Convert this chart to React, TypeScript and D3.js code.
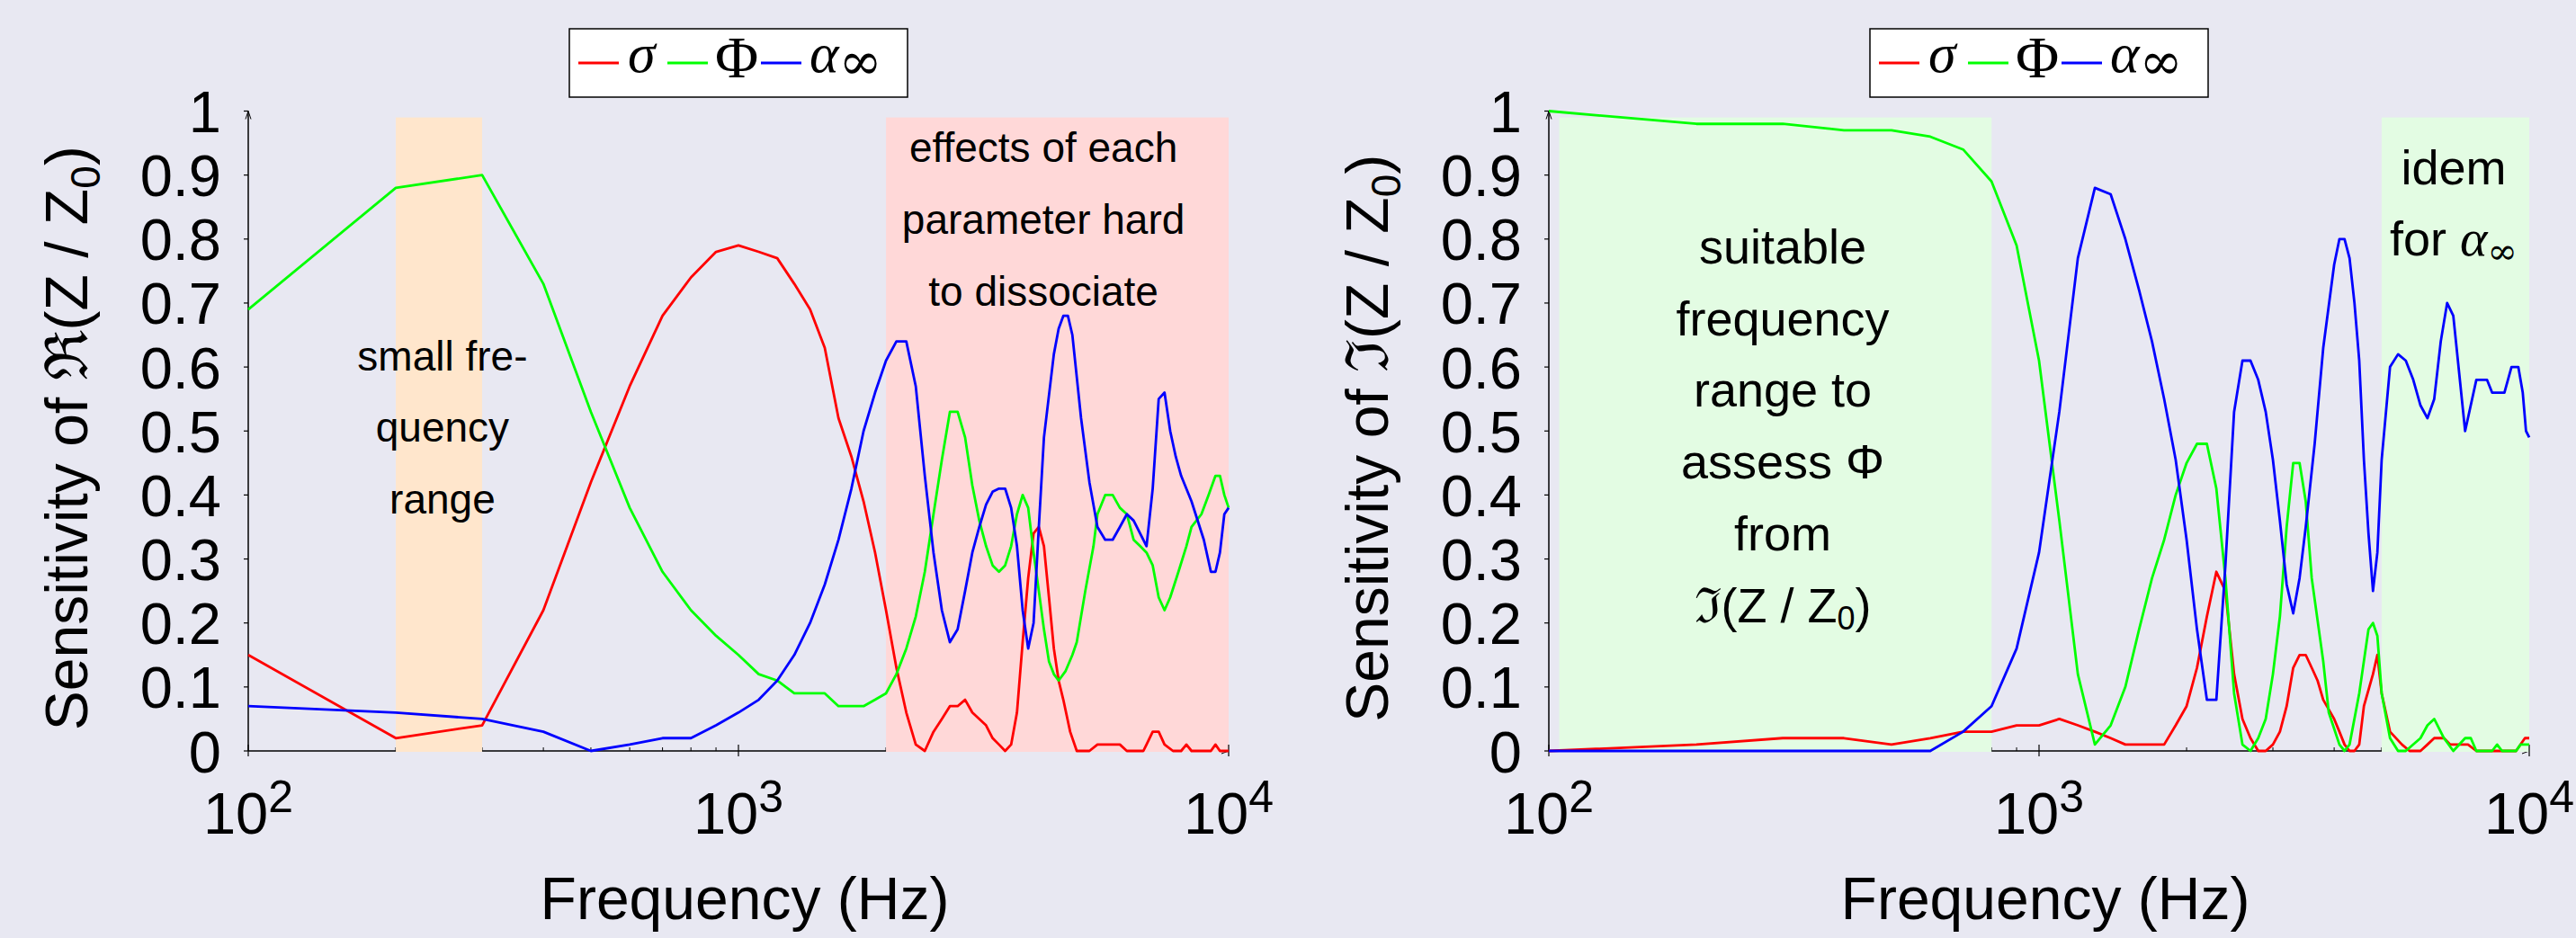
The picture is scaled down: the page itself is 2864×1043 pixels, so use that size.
import * as d3 from 'd3';

type Pt = [number, number];

// axis values
const freqDomain: [number, number] = [100, 10000];
const yTickValues = [0, 0.1, 0.2, 0.3, 0.4, 0.5, 0.6, 0.7, 0.8, 0.9, 1];
const yTickLabels = ['0', '0.1', '0.2', '0.3', '0.4', '0.5', '0.6', '0.7', '0.8', '0.9', '1'];
const xMajorValues = [100, 1000, 10000];
const xMajorExponents = ['2', '3', '4'];
const seriesColors = ['#ff0000', '#00ff00', '#0000ff'];

// sensitivity of Re(Z/Z0)
const reSigma: Pt[] = [
  [100, 0.15], [200, 0.02], [300, 0.04], [400, 0.22], [500, 0.42], [600, 0.57], [700, 0.68],
  [800, 0.74], [900, 0.78], [1000, 0.79], [1100, 0.78], [1200, 0.77], [1300, 0.73], [1400, 0.69],
  [1500, 0.63], [1600, 0.52], [1700, 0.46], [1800, 0.39], [1900, 0.31], [2000, 0.22], [2100, 0.13],
  [2200, 0.06], [2300, 0.01], [2400, 0], [2500, 0.03], [2600, 0.05], [2700, 0.07], [2800, 0.07],
  [2900, 0.08], [3000, 0.06], [3100, 0.05], [3200, 0.04], [3300, 0.02], [3400, 0.01], [3500, 0],
  [3600, 0.01], [3700, 0.06], [3800, 0.17], [3900, 0.27], [4000, 0.34], [4100, 0.35], [4200, 0.32],
  [4300, 0.24], [4400, 0.16], [4500, 0.11], [4600, 0.08], [4750, 0.03], [4900, 0], [5200, 0],
  [5400, 0.01], [6000, 0.01], [6200, 0], [6700, 0], [6800, 0.01], [7000, 0.03], [7200, 0.03],
  [7400, 0.01], [7700, 0], [8000, 0], [8200, 0.01], [8400, 0], [9200, 0], [9400, 0.01], [9600, 0],
  [10000, 0],
];
const rePhi: Pt[] = [
  [100, 0.69], [200, 0.88], [300, 0.9], [400, 0.73], [500, 0.53], [600, 0.38], [700, 0.28],
  [800, 0.22], [900, 0.18], [1000, 0.15], [1100, 0.12], [1200, 0.11], [1300, 0.09], [1400, 0.09],
  [1500, 0.09], [1600, 0.07], [1700, 0.07], [1800, 0.07], [1900, 0.08], [2000, 0.09], [2100, 0.12],
  [2200, 0.16], [2300, 0.21], [2400, 0.28], [2500, 0.37], [2600, 0.455], [2700, 0.53], [2800, 0.53],
  [2900, 0.49], [3000, 0.415], [3100, 0.36], [3200, 0.32], [3300, 0.29], [3400, 0.28], [3500, 0.29],
  [3600, 0.32], [3700, 0.37], [3800, 0.4], [3900, 0.38], [4000, 0.31], [4100, 0.25], [4200, 0.19],
  [4300, 0.14], [4400, 0.12], [4500, 0.11], [4650, 0.125], [4800, 0.15], [4900, 0.17], [5100, 0.25],
  [5300, 0.32], [5400, 0.37], [5600, 0.4], [5800, 0.4], [6000, 0.38], [6200, 0.37], [6400, 0.33],
  [6600, 0.32], [6800, 0.31], [7000, 0.29], [7200, 0.24], [7400, 0.22], [7600, 0.24], [7900, 0.28],
  [8200, 0.32], [8400, 0.35], [8800, 0.37], [9100, 0.4], [9400, 0.43], [9600, 0.43], [9800, 0.4],
  [10000, 0.38],
];
const reAlpha: Pt[] = [
  [100, 0.07], [200, 0.06], [300, 0.05], [400, 0.03], [500, 0], [600, 0.01], [700, 0.02],
  [800, 0.02], [900, 0.04], [1000, 0.06], [1100, 0.08], [1200, 0.11], [1300, 0.15], [1400, 0.2],
  [1500, 0.26], [1600, 0.33], [1700, 0.41], [1800, 0.5], [1900, 0.56], [2000, 0.61], [2100, 0.64],
  [2200, 0.64], [2300, 0.57], [2400, 0.43], [2500, 0.31], [2600, 0.22], [2700, 0.17], [2800, 0.19],
  [2900, 0.25], [3000, 0.31], [3100, 0.35], [3200, 0.385], [3300, 0.405], [3400, 0.41], [3500, 0.41],
  [3600, 0.38], [3700, 0.32], [3800, 0.22], [3900, 0.16], [4000, 0.2], [4100, 0.35], [4200, 0.49],
  [4400, 0.62], [4500, 0.66], [4600, 0.68], [4700, 0.68], [4800, 0.65], [5000, 0.52], [5200, 0.42],
  [5400, 0.35], [5600, 0.33], [5800, 0.33], [6000, 0.35], [6200, 0.37], [6400, 0.36], [6800, 0.32],
  [7000, 0.41], [7200, 0.55], [7400, 0.56], [7600, 0.5], [7800, 0.46], [8000, 0.43], [8400, 0.39],
  [8900, 0.33], [9200, 0.28], [9400, 0.28], [9600, 0.31], [9800, 0.37], [10000, 0.38],
];

// sensitivity of Im(Z/Z0)
const imSigma: Pt[] = [
  [100, 0], [200, 0.01], [300, 0.02], [400, 0.02], [500, 0.01], [600, 0.02], [700, 0.03],
  [800, 0.03], [900, 0.04], [1000, 0.04], [1100, 0.05], [1200, 0.04], [1300, 0.03], [1400, 0.02],
  [1500, 0.01], [1800, 0.01], [1900, 0.04], [2000, 0.07], [2100, 0.13], [2200, 0.21], [2300, 0.28],
  [2400, 0.25], [2500, 0.12], [2600, 0.05], [2700, 0.02], [2800, 0], [2900, 0], [3000, 0.01],
  [3100, 0.03], [3200, 0.07], [3300, 0.13], [3400, 0.15], [3500, 0.15], [3600, 0.13], [3700, 0.11],
  [3800, 0.08], [4000, 0.05], [4100, 0.03], [4200, 0.01], [4300, 0], [4400, 0], [4500, 0.01],
  [4600, 0.07], [4800, 0.12], [4900, 0.15], [5000, 0.09], [5200, 0.03], [5500, 0.01], [5700, 0],
  [6000, 0], [6200, 0.01], [6400, 0.02], [6700, 0.02], [6900, 0.01], [7500, 0.01], [7800, 0],
  [9400, 0], [9800, 0.02], [10000, 0.02],
];
const imPhi: Pt[] = [
  [100, 1], [200, 0.98], [300, 0.98], [400, 0.97], [500, 0.97], [600, 0.96], [700, 0.94],
  [800, 0.89], [900, 0.79], [1000, 0.61], [1100, 0.36], [1200, 0.12], [1300, 0.01], [1400, 0.04],
  [1500, 0.1], [1600, 0.19], [1700, 0.27], [1800, 0.33], [1900, 0.4], [2000, 0.45], [2100, 0.48],
  [2200, 0.48], [2300, 0.41], [2400, 0.27], [2500, 0.09], [2600, 0.01], [2700, 0], [2800, 0.02],
  [2900, 0.05], [3000, 0.12], [3100, 0.21], [3200, 0.35], [3300, 0.45], [3400, 0.45], [3500, 0.39],
  [3600, 0.27], [3800, 0.14], [3900, 0.06], [4100, 0.01], [4200, 0], [4300, 0.01], [4500, 0.09],
  [4700, 0.19], [4800, 0.2], [4900, 0.18], [5000, 0.09], [5200, 0.02], [5400, 0], [5600, 0],
  [6000, 0.02], [6200, 0.04], [6400, 0.05], [6700, 0.02], [7000, 0], [7400, 0.02], [7600, 0.02],
  [7800, 0], [8400, 0], [8600, 0.01], [8800, 0], [9400, 0], [9600, 0.01], [10000, 0.01],
];
const imAlpha: Pt[] = [
  [100, 0], [600, 0], [700, 0.03], [800, 0.07], [900, 0.16], [1000, 0.31], [1100, 0.53],
  [1200, 0.77], [1300, 0.88], [1400, 0.87], [1500, 0.8], [1600, 0.72], [1700, 0.64], [1800, 0.55],
  [1900, 0.455], [2000, 0.33], [2100, 0.19], [2200, 0.08], [2300, 0.08], [2400, 0.29], [2500, 0.53],
  [2600, 0.61], [2700, 0.61], [2800, 0.58], [2900, 0.53], [3000, 0.455], [3100, 0.36], [3200, 0.26],
  [3300, 0.215], [3400, 0.27], [3500, 0.35], [3650, 0.48], [3800, 0.63], [4000, 0.76], [4100, 0.8],
  [4200, 0.8], [4300, 0.77], [4400, 0.7], [4500, 0.61], [4600, 0.455], [4700, 0.34], [4800, 0.25],
  [4900, 0.31], [5000, 0.455], [5200, 0.6], [5400, 0.62], [5600, 0.61], [5800, 0.58], [6000, 0.54],
  [6200, 0.52], [6400, 0.55], [6600, 0.64], [6800, 0.7], [7000, 0.68], [7400, 0.5], [7800, 0.58],
  [8200, 0.58], [8400, 0.56], [8900, 0.56], [9200, 0.6], [9500, 0.6], [9700, 0.56], [9850, 0.5],
  [10000, 0.49],
];

// shaded frequency ranges [from, to]
const reBandRanges: Pt[] = [[200, 300], [2000, 10000]];
const reBandColors = ['#ffe6cc', '#ffd8d8'];
const imBandRanges: Pt[] = [[105, 800], [5000, 10000]];
const imBandColors = ['#e3fce3', '#e3fce3'];

const W = 2864;
const H = 1043;
const PLOT_W = 1090;
const Y_TOP = 123.5;
const Y_BOTTOM = 835;
const BG = '#e8e8f2';
const SANS = '"Liberation Sans", Arial, Helvetica, sans-serif';
const SERIF = '"Liberation Serif", "Times New Roman", serif';
const MATH = '"DejaVu Serif", "Liberation Serif", serif';

type PanelProps = {
  x0: number;
  series: Pt[][];
  bandRanges: Pt[];
  bandColors: string[];
  partSymbol: string;
  children?: (x: d3.ScaleLogarithmic<number, number>, y: d3.ScaleLinear<number, number>) => any;
};

function Panel({ x0, series, bandRanges, bandColors, partSymbol, children }: PanelProps) {
  const x = d3.scaleLog().domain(freqDomain).range([x0, x0 + PLOT_W]);
  const y = d3.scaleLinear().domain([0, 1]).range([Y_BOTTOM, Y_TOP]);
  const line = d3.line<Pt>().x((d) => x(d[0])).y((d) => y(d[1]));
  const minorTicks = x.ticks().filter((t) => !xMajorValues.includes(t));
  const x1 = x0 + PLOT_W;
  const cx = x0 + PLOT_W / 2;

  // legend layout
  const boxW = 376;
  const boxX = cx - boxW / 2;
  const itemOffsets = [10, 109, 213];

  return (
    <g>
      {/* axes */}
      <line x1={x0} x2={x1} y1={y(0)} y2={y(0)} stroke="#000" strokeWidth={1.5} />
      <line x1={x0} x2={x0} y1={y(0)} y2={y(1)} stroke="#000" strokeWidth={1.5} />
      <path d={`M${x0 - 3},${y(1) + 9}L${x0},${y(1)}L${x0 + 3},${y(1) + 9}`} fill="none" stroke="#000" strokeWidth={1} />
      <path d={`M${x1 - 8},${y(0) - 3}L${x1},${y(0)}L${x1 - 8},${y(0) + 3}`} fill="none" stroke="#000" strokeWidth={1} />
      {minorTicks.map((t) => (
        <line key={t} x1={x(t)} x2={x(t)} y1={y(0) - 4} y2={y(0)} stroke="#000" strokeWidth={1} />
      ))}

      {/* shaded ranges */}
      {bandRanges.map((r, i) => (
        <rect key={i} x={x(r[0])} y={y(0.99)} width={x(r[1]) - x(r[0])} height={y(0) - y(0.99) + 1} fill={bandColors[i]} />
      ))}

      {xMajorValues.map((t) => (
        <line key={t} x1={x(t)} x2={x(t)} y1={y(0) - 7} y2={y(0) + 6} stroke="#000" strokeWidth={1.2} />
      ))}
      {yTickValues.map((t) => (
        <line key={t} x1={x0 - 5} x2={x0} y1={y(t)} y2={y(t)} stroke="#000" strokeWidth={1.2} />
      ))}

      {/* tick labels */}
      {yTickValues.map((t, i) => (
        <text key={t} x={x0 - 30} y={y(t) + 23.5} textAnchor="end" fontSize={65} fontFamily={SANS}>
          {yTickLabels[i]}
        </text>
      ))}
      {xMajorValues.map((t, i) => (
        <text key={t} x={x(t)} y={927} textAnchor="middle" fontSize={65} fontFamily={SANS}>
          10<tspan fontSize={50} dy={-24}>{xMajorExponents[i]}</tspan>
        </text>
      ))}

      {/* series */}
      {series.map((s, i) => (
        <path key={i} d={line(s) ?? ''} fill="none" stroke={seriesColors[i]} strokeWidth={2.8} strokeLinejoin="round" />
      ))}

      {children ? children(x, y) : null}

      {/* axis titles */}
      <text x={cx + 7} y={1022} textAnchor="middle" fontSize={66} fontFamily={SANS}>
        Frequency (Hz)
      </text>
      <text transform={`translate(${x0 - 179},${(Y_TOP + Y_BOTTOM) / 2 + 8}) rotate(-90)`} textAnchor="middle" fontSize={66} fontFamily={SANS}>
        Sensitivity of <tspan fontFamily={MATH}>{partSymbol}</tspan>(Z / Z<tspan fontSize={46} dy={14}>0</tspan><tspan dy={-14}>)</tspan>
      </text>

      {/* legend */}
      <rect x={boxX} y={32} width={boxW} height={76} fill="#fff" stroke="#000" strokeWidth={1.5} />
      {itemOffsets.map((o, i) => (
        <line key={i} x1={boxX + o} x2={boxX + o + 45} y1={70} y2={70} stroke={seriesColors[i]} strokeWidth={3} />
      ))}
      <text x={boxX + itemOffsets[0] + 55} y={80} fontSize={62} fontFamily={SERIF} fontStyle="italic">σ</text>
      <text x={boxX + itemOffsets[1] + 53} y={86} fontSize={66} fontFamily={SERIF}>Φ</text>
      <text x={boxX + itemOffsets[2] + 54} y={80} fontSize={62} fontFamily={SERIF}>
        <tspan fontStyle="italic">α</tspan>
        <tspan fontFamily={MATH} fontSize={58} dy={8}>∞</tspan>
      </text>
    </g>
  );
}

function Lines({ cx, top, size, lines }: { cx: number; top: number; size: number; lines: any[] }) {
  return (
    <g>
      {lines.map((l, i) => (
        <text key={i} x={cx} y={top + i * 79.8} textAnchor="middle" fontSize={size} fontFamily={SANS}>
          {l}
        </text>
      ))}
    </g>
  );
}

export default function App() {
  return (
    <svg width={W} height={H} style={{ position: 'absolute', left: 0, top: 0, display: 'block' }}>
      <rect x={0} y={0} width={W} height={H} fill={BG} />
      <Panel x0={276} series={[reSigma, rePhi, reAlpha]} bandRanges={reBandRanges} bandColors={reBandColors} partSymbol="ℜ">
        {(x, y) => (
          <g>
            <Lines cx={x(249)} top={y(0.595)} size={46} lines={['small fre-', 'quency', 'range']} />
            <Lines cx={x(4190)} top={y(0.92)} size={46} lines={['effects of each', 'parameter hard', 'to dissociate']} />
          </g>
        )}
      </Panel>
      <Panel x0={1722} series={[imSigma, imPhi, imAlpha]} bandRanges={imBandRanges} bandColors={imBandColors} partSymbol="ℑ">
        {(x, y) => (
          <g>
            <Lines
              cx={x(300)}
              top={y(0.762)}
              size={54}
              lines={[
                'suitable',
                'frequency',
                'range to',
                'assess Φ',
                'from',
                <tspan key="m">
                  <tspan fontFamily={MATH}>ℑ</tspan>(Z / Z<tspan fontSize={36} dy={8}>0</tspan>
                  <tspan dy={-8}>)</tspan>
                </tspan>,
              ]}
            />
            <Lines
              cx={x(7012)}
              top={y(0.886)}
              size={54}
              lines={[
                'idem',
                <tspan key="f">
                  for <tspan fontFamily={SERIF} fontStyle="italic" fontSize={58}>α</tspan>
                  <tspan fontFamily={MATH} fontSize={40} dy={9}>∞</tspan>
                </tspan>,
              ]}
            />
          </g>
        )}
      </Panel>
    </svg>
  );
}
